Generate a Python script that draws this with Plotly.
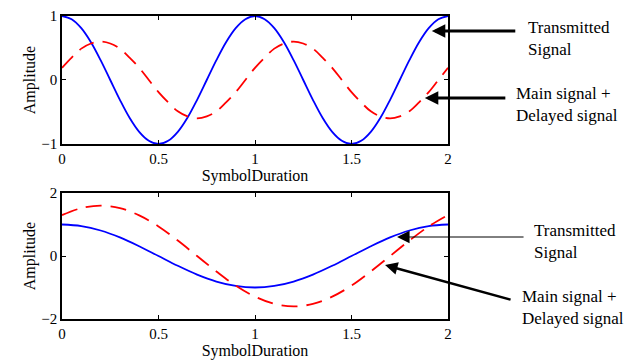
import plotly.graph_objects as go

# ---- data ----
t_top = [0.00, 0.05, 0.10, 0.15, 0.20, 0.25, 0.30, 0.35, 0.40, 0.45, 0.50,
         0.55, 0.60, 0.65, 0.70, 0.75, 0.80, 0.85, 0.90, 0.95, 1.00,
         1.05, 1.10, 1.15, 1.20, 1.25, 1.30, 1.35, 1.40, 1.45, 1.50,
         1.55, 1.60, 1.65, 1.70, 1.75, 1.80, 1.85, 1.90, 1.95, 2.00]
top_transmitted = [1.00, 0.95, 0.81, 0.59, 0.31, 0.00, -0.31, -0.59, -0.81, -0.95, -1.00,
                   -0.95, -0.81, -0.59, -0.31, 0.00, 0.31, 0.59, 0.81, 0.95, 1.00,
                   0.95, 0.81, 0.59, 0.31, 0.00, -0.31, -0.59, -0.81, -0.95, -1.00,
                   -0.95, -0.81, -0.59, -0.31, 0.00, 0.31, 0.59, 0.81, 0.95, 1.00]
top_combined = [0.19, 0.35, 0.49, 0.57, 0.60, 0.57, 0.49, 0.35, 0.19, 0.00, -0.19,
                -0.35, -0.49, -0.57, -0.60, -0.57, -0.49, -0.35, -0.19, 0.00, 0.19,
                0.35, 0.49, 0.57, 0.60, 0.57, 0.49, 0.35, 0.19, 0.00, -0.19,
                -0.35, -0.49, -0.57, -0.60, -0.57, -0.49, -0.35, -0.19, 0.00, 0.19]

t_bot = [0.0, 0.1, 0.2, 0.3, 0.4, 0.5, 0.6, 0.7, 0.8, 0.9, 1.0,
         1.1, 1.2, 1.3, 1.4, 1.5, 1.6, 1.7, 1.8, 1.9, 2.0]
bot_transmitted = [1.0, 0.95, 0.81, 0.59, 0.31, 0.0, -0.31, -0.59, -0.81, -0.95, -1.0,
                   -0.95, -0.81, -0.59, -0.31, 0.0, 0.31, 0.59, 0.81, 0.95, 1.0]
bot_combined = [1.30, 1.52, 1.60, 1.52, 1.29, 0.94, 0.49, 0.0, -0.49, -0.94, -1.29,
                -1.52, -1.60, -1.52, -1.29, -0.94, -0.49, 0.0, 0.49, 0.94, 1.30]

x_ticks = [0, 0.5, 1, 1.5, 2]
x_tick_labels = ["0", "0.5", "1", "1.5", "2"]
top_y_ticks = [-1, 0, 1]
bot_y_ticks = [-2, 0, 2]

FONT = "Times New Roman, Liberation Serif, DejaVu Serif, serif"
BLUE = "#0000FF"
RED = "#FF0000"
DASH = "16px,9px"

fig = go.Figure()
fig.add_trace(go.Scatter(x=t_top, y=top_transmitted, mode="lines", line=dict(color=BLUE, width=1.8, shape="spline"),
                         xaxis="x", yaxis="y", showlegend=False))
fig.add_trace(go.Scatter(x=t_top, y=top_combined, mode="lines", line=dict(color=RED, width=1.8, dash=DASH, shape="spline"),
                         xaxis="x", yaxis="y", showlegend=False))
fig.add_trace(go.Scatter(x=t_bot, y=bot_transmitted, mode="lines", line=dict(color=BLUE, width=1.8, shape="spline"),
                         xaxis="x2", yaxis="y2", showlegend=False))
fig.add_trace(go.Scatter(x=t_bot, y=bot_combined, mode="lines", line=dict(color=RED, width=1.8, dash=DASH, shape="spline"),
                         xaxis="x2", yaxis="y2", showlegend=False))

axis_common = dict(showline=True, linecolor="black", linewidth=1.5, mirror="ticks", ticks="inside",
                   ticklen=4, tickcolor="black", tickwidth=1, showgrid=False, zeroline=False,
                   automargin=False,
                   tickfont=dict(family=FONT, size=15, color="black"))
title_font = dict(family=FONT, size=16, color="black")

fig.update_layout(
    width=635, height=362,
    margin=dict(l=62, r=187, t=16, b=43),
    paper_bgcolor="white", plot_bgcolor="white",
    font=dict(family=FONT, color="black"),
    xaxis=dict(domain=[0, 1], anchor="y", range=[0, 2], tickvals=x_ticks, ticktext=x_tick_labels,
               title=dict(text="SymbolDuration", font=title_font, standoff=2), **axis_common),
    yaxis=dict(domain=[0.5776, 1], anchor="x", range=[-1, 1], tickvals=top_y_ticks,
               title=dict(text="Amplitude", font=title_font, standoff=2), **axis_common),
    xaxis2=dict(domain=[0, 1], anchor="y2", range=[0, 2], tickvals=x_ticks, ticktext=x_tick_labels,
                title=dict(text="SymbolDuration", font=title_font, standoff=2), **axis_common),
    yaxis2=dict(domain=[0, 0.4158], anchor="x2", range=[-2, 2], tickvals=bot_y_ticks,
                title=dict(text="Amplitude", font=title_font, standoff=2), **axis_common),
)

def arrow(hx, hy, ax, ay, w, size):
    fig.add_annotation(xref="paper", yref="paper", x=hx, y=hy, text="", showarrow=True,
                       ax=ax, ay=ay, axref="pixel", ayref="pixel", arrowhead=2, arrowsize=size,
                       arrowwidth=w, arrowcolor="black", standoff=0)

def label(x, y, text):
    fig.add_annotation(xref="paper", yref="paper", x=x, y=y, text=text, showarrow=False,
                       xanchor="left", yanchor="middle", align="left",
                       font=dict(family=FONT, size=17, color="black"))

arrow(0.958, 0.9505, 85, 0, 3, 0.9)
arrow(0.940, 0.729, 82, 0, 3, 0.9)
arrow(0.868, 0.2706, 128, 0, 1, 2.5)
arrow(0.837, 0.178, 127, 35, 2.5, 1.0)

label(1.202, 0.926, "Transmitted<br>Signal")
label(1.171, 0.708, "Main signal +<br>Delayed signal")
label(1.218, 0.257, "Transmitted<br>Signal")
label(1.187, 0.038, "Main signal +<br>Delayed signal")

fig.write_html("out.html", config={"displayModeBar": False},
               post_script="document.body.style.margin='0';")
